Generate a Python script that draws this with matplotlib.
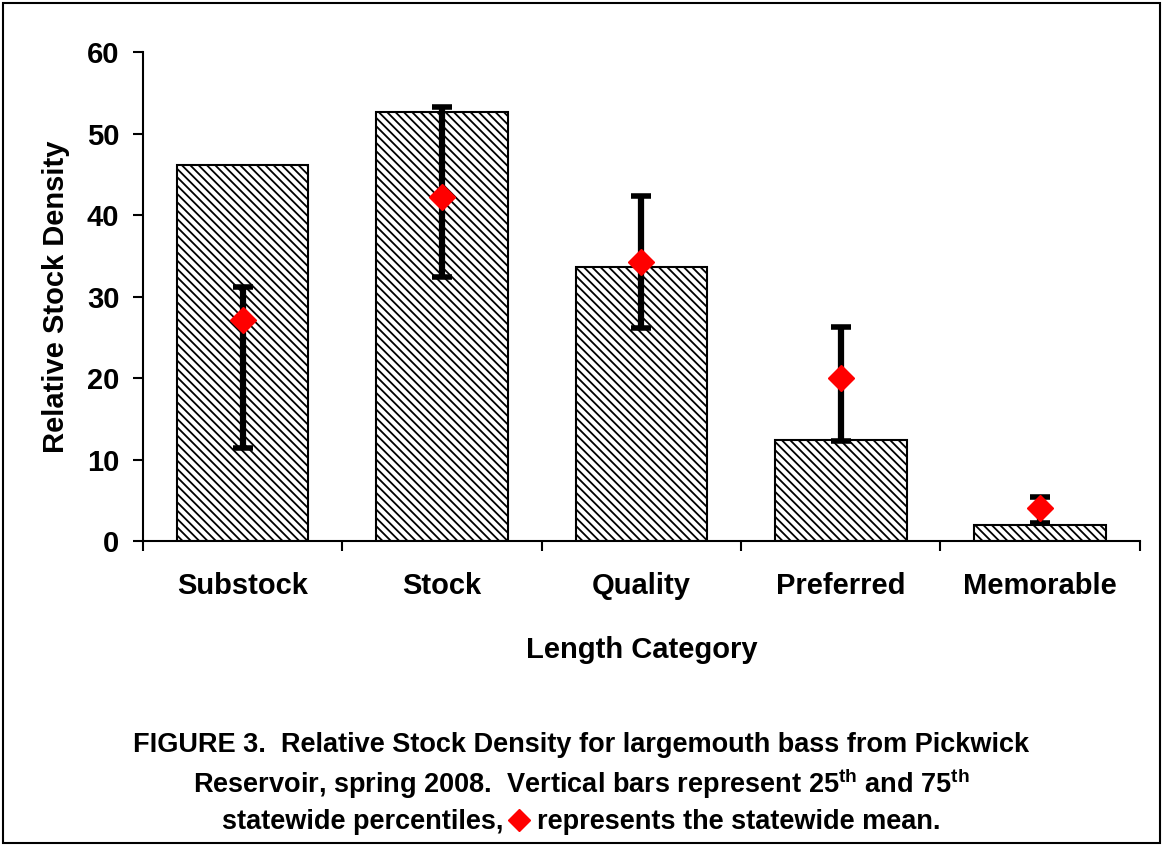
import numpy as np
import matplotlib
matplotlib.use("Agg")
import matplotlib.pyplot as plt
from matplotlib.lines import Line2D
from matplotlib.patches import Rectangle

categories = ["Substock", "Stock", "Quality", "Preferred", "Memorable"]
rsd = [46.1, 52.6, 33.6, 12.4, 2.0]
p25 = [11.4, 32.4, 26.1, 12.3, 2.2]
p75 = [31.2, 53.2, 42.3, 26.3, 5.4]
mean = [27.1, 42.2, 34.2, 20.0, 4.0]

plt.rcParams['font.family'] = ['Liberation Sans', 'DejaVu Sans']
plt.rcParams['font.weight'] = 'bold'
plt.rcParams['mathtext.fontset'] = 'custom'
plt.rcParams['mathtext.bf'] = 'Liberation Sans:bold'
plt.rcParams['mathtext.rm'] = 'Liberation Sans:bold'
plt.rcParams['hatch.linewidth'] = 1.3

fig = plt.figure(figsize=(11.63, 8.46), dpi=100)
ax = fig.add_axes([0.123, 0.3605, 0.857, 0.578])

x = np.arange(len(categories))
ax.bar(x, rsd, width=0.66, color="white", edgecolor="black", linewidth=1.5, hatch="\\\\\\\\")

mean_arr = np.array(mean)
yerr = [mean_arr - np.array(p25), np.array(p75) - mean_arr]
ax.errorbar(x, mean, yerr=yerr, fmt="none", ecolor="black", elinewidth=4.5,
            capsize=7, capthick=4, zorder=3)
ax.plot(x, mean, linestyle="none", marker="D", color="red", markersize=13, zorder=4)

ax.set_xlim(-0.5, len(categories) - 0.5)
ax.set_ylim(0, 60)
ax.set_yticks(np.arange(0, 61, 10))
ax.set_xticks(x)
ax.set_xticklabels(categories, fontsize=21, fontweight="bold")
ax.tick_params(axis="x", length=0, pad=22)
ax.set_xticks(np.arange(-0.5, len(categories), 1), minor=True)
ax.tick_params(axis="x", which="minor", length=7, width=1.5, direction="out")
ax.tick_params(axis="y", labelsize=21, length=7, width=1.5, direction="out", pad=10)
for lbl in ax.get_yticklabels():
    lbl.set_fontweight("bold")
ax.spines["top"].set_visible(False)
ax.spines["right"].set_visible(False)
ax.spines["left"].set_linewidth(1.5)
ax.spines["bottom"].set_linewidth(1.5)

ax.set_xlabel("Length Category", fontsize=21, fontweight="bold", labelpad=26)
ax.set_ylabel("Relative Stock Density", fontsize=21, fontweight="bold", labelpad=12)

# caption
cap_size = 19.5
fig.text(0.5, 1 - 745 / 846, "FIGURE 3.  Relative Stock Density for largemouth bass from Pickwick",
         ha="center", va="center", fontsize=cap_size, fontweight="bold")
fig.text(0.5, 1 - 784 / 846,
         r"Reservoir, spring 2008.  Vertical bars represent 25$^{\mathbf{th}}$ and 75$^{\mathbf{th}}$",
         ha="center", va="center", fontsize=cap_size, fontweight="bold")
fig.text(503 / 1163, 1 - 822 / 846, "statewide percentiles,", ha="right", va="center",
         fontsize=cap_size, fontweight="bold")
fig.add_artist(Line2D([519 / 1163], [1 - 820 / 846], marker="D", color="red",
                      markersize=11, linestyle="none", transform=fig.transFigure))
fig.text(537 / 1163, 1 - 822 / 846, "represents the statewide mean.", ha="left", va="center",
         fontsize=cap_size, fontweight="bold")

# outer border
fig.add_artist(Rectangle((0.003, 0.004), 0.994, 0.992, transform=fig.transFigure,
                         fill=False, edgecolor="black", linewidth=1.5))

fig.savefig("out.png", dpi=100)
